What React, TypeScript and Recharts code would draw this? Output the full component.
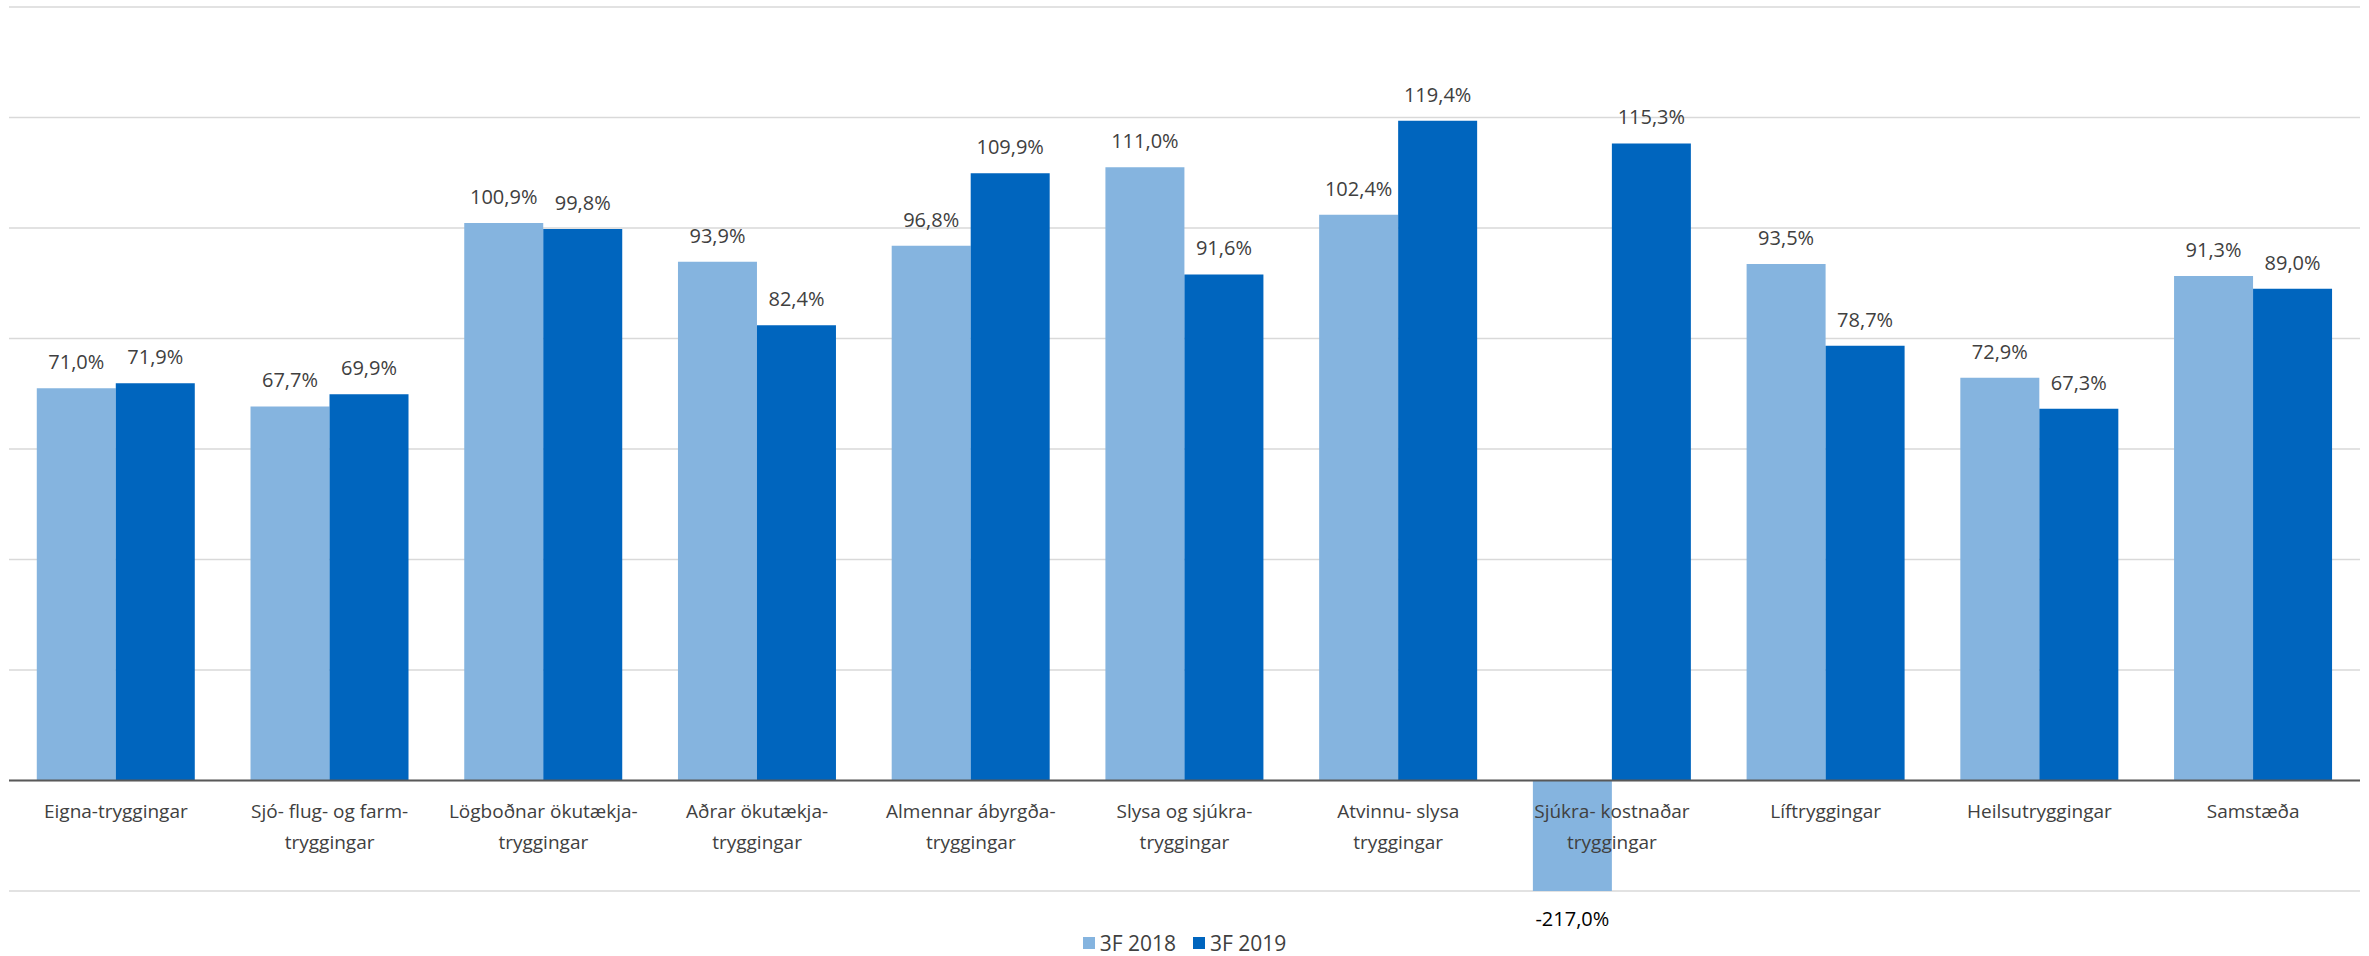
import React from 'react';
import {
  BarChart,
  Bar,
  XAxis,
  YAxis,
  CartesianGrid,
  ReferenceLine,
  LabelList,
} from 'recharts';

const categories = [
  'Eigna-tryggingar',
  'Sjó- flug- og farm-\ntryggingar',
  'Lögboðnar ökutækja-\ntryggingar',
  'Aðrar ökutækja-\ntryggingar',
  'Almennar ábyrgða-\ntryggingar',
  'Slysa og sjúkra-\ntryggingar',
  'Atvinnu- slysa\ntryggingar',
  'Sjúkra- kostnaðar\ntryggingar',
  'Líftryggingar',
  'Heilsutryggingar',
  'Samstæða',
];

const values2018 = [71.0, 67.7, 100.9, 93.9, 96.8, 111.0, 102.4, -217.0, 93.5, 72.9, 91.3];
const values2019 = [71.9, 69.9, 99.8, 82.4, 109.9, 91.6, 119.4, 115.3, 78.7, 67.3, 89.0];

const seriesNames = ['3F 2018', '3F 2019'];

const yTicks = [-20, 0, 20, 40, 60, 80, 100, 120, 140];

const W = 2369;
const H = 956;
const X_AXIS_H = 30;
const MARGIN = { top: 7, right: 9, bottom: 65 - X_AXIS_H, left: 9 };
const PLOT_BOTTOM = H - 65;
const PLOT_H = PLOT_BOTTOM - MARGIN.top;
const Y_MIN = -20;
const Y_MAX = 140;
const ZERO_Y = MARGIN.top + (PLOT_H * Y_MAX) / (Y_MAX - Y_MIN);

const FONT = '"Open Sans", sans-serif';
const LIGHT = '#85b4df';
const DARK = '#0065be';
const COLORS = [LIGHT, DARK];

const data = categories.map((name, i) => ({
  name,
  s2018: values2018[i],
  s2019: values2019[i],
}));

const fmt = (v: number) => v.toFixed(1).replace('.', ',') + '%';

const CategoryTick = ({ x, payload }: any) => {
  const lines = String(payload.value).split('\n');
  return (
    <text
      x={x}
      y={ZERO_Y + 37}
      textAnchor="middle"
      fill="#404040"
      fontFamily={FONT}
      fontSize={19}
    >
      {lines.map((l, i) => (
        <tspan key={i} x={x} dy={i === 0 ? 0 : 31}>
          {l}
        </tspan>
      ))}
    </text>
  );
};

const ValueLabel = (props: any) => {
  const { x, y, width, value } = props;
  const cx = x + width / 2;
  if (value < 0) {
    return (
      <text x={cx} y={PLOT_BOTTOM + 35} textAnchor="middle" fill="#000000" fontFamily={FONT} fontSize={20}>
        {fmt(value)}
      </text>
    );
  }
  return (
    <text x={cx} y={y - 19} textAnchor="middle" fill="#404040" fontFamily={FONT} fontSize={20}>
      {fmt(value)}
    </text>
  );
};

export default function App() {
  return (
    <div style={{ position: 'absolute', left: 0, top: 0, width: W, height: H, background: '#fff' }}>
      <BarChart width={W} height={H} data={data} margin={MARGIN} barCategoryGap="13%" barGap={0}>
        <CartesianGrid vertical={false} stroke="#d9d9d9" strokeWidth={1.5} />
        <YAxis hide domain={[Y_MIN, Y_MAX]} ticks={yTicks} allowDataOverflow />
        <Bar dataKey="s2018" name={seriesNames[0]} fill={LIGHT} isAnimationActive={false}>
          <LabelList dataKey="s2018" content={<ValueLabel />} />
        </Bar>
        <Bar dataKey="s2019" name={seriesNames[1]} fill={DARK} isAnimationActive={false}>
          <LabelList dataKey="s2019" content={<ValueLabel />} />
        </Bar>
        <ReferenceLine y={0} stroke="#595959" strokeWidth={2} />
        <XAxis
          dataKey="name"
          interval={0}
          height={X_AXIS_H}
          axisLine={false}
          tickLine={false}
          tick={<CategoryTick />}
        />
      </BarChart>
      <div
        style={{
          position: 'absolute',
          left: 0,
          top: 929,
          width: W,
          display: 'flex',
          justifyContent: 'center',
          alignItems: 'center',
          fontFamily: FONT,
          fontSize: 21,
          color: '#404040',
          gap: 17,
        }}
      >
        {seriesNames.map((s, i) => (
          <span key={s} style={{ display: 'flex', alignItems: 'center' }}>
            <span style={{ width: 12, height: 12, background: COLORS[i], marginRight: 5, display: 'inline-block' }} />
            {s}
          </span>
        ))}
      </div>
    </div>
  );
}
